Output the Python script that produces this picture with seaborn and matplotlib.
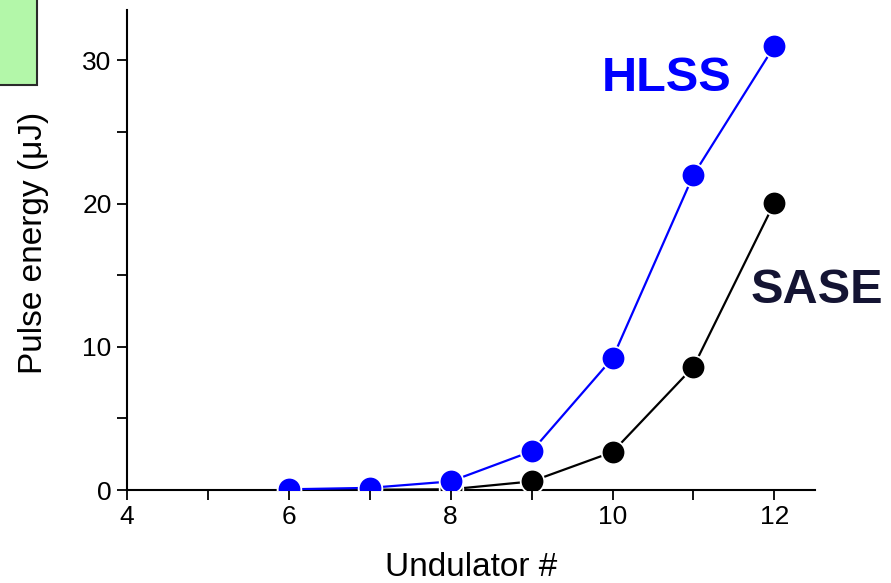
import matplotlib
matplotlib.use("Agg")
import matplotlib.pyplot as plt
import seaborn as sns
import pandas as pd
from matplotlib.patches import Rectangle
from matplotlib.ticker import MultipleLocator

sns.set_style("white")
plt.rcParams["font.family"] = ["Liberation Sans", "DejaVu Sans"]

undulator = [6, 7, 8, 9, 10, 11, 12]
hlss_energy = [0.05, 0.15, 0.6, 2.7, 9.2, 22.0, 31.0]
sase_energy = [0.0, 0.02, 0.05, 0.6, 2.65, 8.6, 20.05]

df = pd.DataFrame({"undulator": undulator, "HLSS": hlss_energy, "SASE": sase_energy})

fig = plt.figure(figsize=(8.91, 5.83), dpi=100)
ax = fig.add_axes([0.1425, 0.1595, 0.772, 0.823])

style = dict(marker="o", markersize=17, linewidth=1.6,
             markeredgecolor="white", markeredgewidth=1.3)
sns.lineplot(data=df, x="undulator", y="SASE", color="black", ax=ax, **style)
sns.lineplot(data=df, x="undulator", y="HLSS", color="#0000ff", ax=ax, **style)

ax.set_xlim(4, 12.5)
ax.set_ylim(0, 33.5)
ax.xaxis.set_major_locator(MultipleLocator(2))
ax.xaxis.set_minor_locator(MultipleLocator(1))
ax.yaxis.set_major_locator(MultipleLocator(10))
ax.yaxis.set_minor_locator(MultipleLocator(5))

for side in ("top", "right"):
    ax.spines[side].set_visible(False)
for side in ("left", "bottom"):
    ax.spines[side].set_color("black")
    ax.spines[side].set_linewidth(1.5)
    ax.spines[side].set_zorder(1)

ax.tick_params(which="both", direction="out", length=7, width=1.3,
               colors="black", labelsize=19, left=True, bottom=True)
ax.tick_params(which="major", pad=4)

ax.set_xlabel("Undulator #", fontsize=24, color="black", labelpad=16)
ax.set_ylabel("Pulse energy (\u03bcJ)", fontsize=24, color="black")
ax.yaxis.set_label_coords(-0.114, 0.515)

ax.text(10.67, 28.75, "HLSS", color="#0000ff", fontsize=35, fontweight="bold",
        ha="center", va="center")
ax.text(12.53, 13.96, "SASE", color="#141433", fontsize=35, fontweight="bold",
        ha="center", va="center", clip_on=False)

fig.patches.append(Rectangle((-0.01, 0.854), 0.0515, 0.2, transform=fig.transFigure,
                             facecolor="#b3f7a9", edgecolor="#2a2a2a", linewidth=1.5))

fig.savefig("out.png", dpi=100)
